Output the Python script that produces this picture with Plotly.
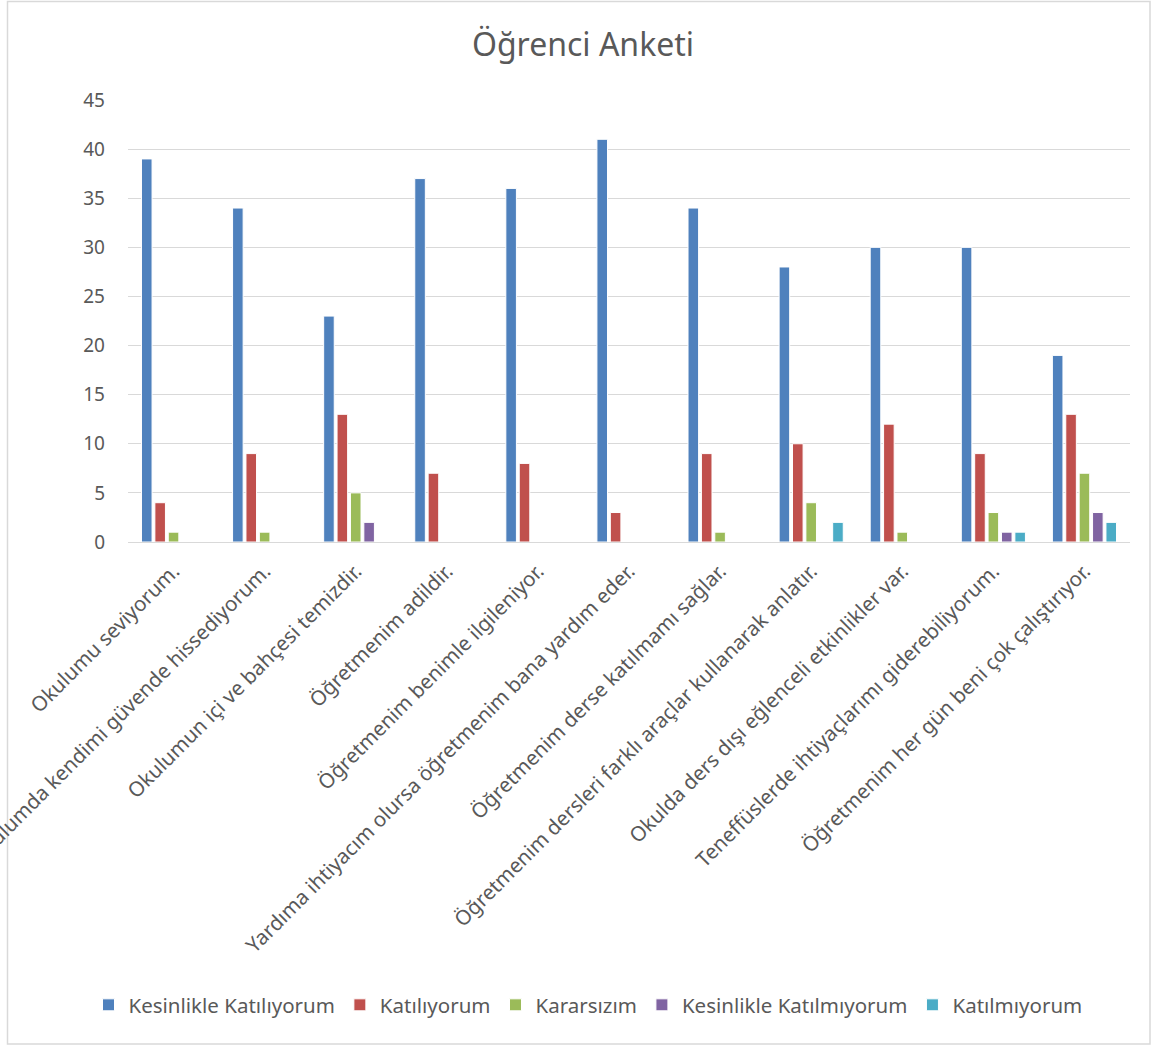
import plotly.graph_objects as go

categories = [
    "Okulumu seviyorum.",
    "Okulumda kendimi güvende hissediyorum.",
    "Okulumun içi ve bahçesi temizdir.",
    "Öğretmenim adildir.",
    "Öğretmenim benimle ilgileniyor.",
    "Yardıma ihtiyacım olursa öğretmenim bana yardım eder.",
    "Öğretmenim derse katılmamı sağlar.",
    "Öğretmenim dersleri farklı araçlar kullanarak anlatır.",
    "Okulda ders dışı eğlenceli etkinlikler var.",
    "Teneffüslerde ihtiyaçlarımı giderebiliyorum.",
    "Öğretmenim her gün beni çok çalıştırıyor.",
]

series_names = ["Kesinlikle Katılıyorum", "Katılıyorum", "Kararsızım",
                "Kesinlikle Katılmıyorum", "Katılmıyorum"]

kesinlikle_katiliyorum = [39, 34, 23, 37, 36, 41, 34, 28, 30, 30, 19]
katiliyorum = [4, 9, 13, 7, 8, 3, 9, 10, 12, 9, 13]
kararsizim = [1, 1, 5, 0, 0, 0, 1, 4, 1, 3, 7]
kesinlikle_katilmiyorum = [0, 0, 2, 0, 0, 0, 0, 0, 0, 1, 3]
katilmiyorum = [0, 0, 0, 0, 0, 0, 0, 2, 0, 1, 2]

y_ticks = [0, 5, 10, 15, 20, 25, 30, 35, 40, 45]

colors = ["#4F81BD", "#C0504D", "#9BBB59", "#8064A2", "#4BACC6"]
all_values = [kesinlikle_katiliyorum, katiliyorum, kararsizim,
              kesinlikle_katilmiyorum, katilmiyorum]

FONT = "Noto Sans"

fig = go.Figure()
for name, vals, col in zip(series_names, all_values, colors):
    fig.add_trace(go.Bar(
        x=categories, y=vals, name=name,
        marker=dict(color=col, line=dict(color="white", width=1)),
    ))

W, H = 1156, 1046
ml, mr, mt, mb = 128, 26, 100, 504
pw, ph = W - ml - mr, H - mt - mb

def px_x(px):
    return (px - ml) / pw

def px_y(py):
    return (H - mb - py) / ph

fig.update_layout(
    width=W, height=H,
    margin=dict(l=ml, r=mr, t=mt, b=mb, autoexpand=False),
    paper_bgcolor="white", plot_bgcolor="white",
    barmode="group", bargap=0.265, bargroupgap=0.21,
    font=dict(family=FONT, color="#595959", size=20),
    title=dict(text="Öğrenci Anketi", x=583 / W, xref="container", xanchor="center",
               y=1 - 45 / H, yref="container", yanchor="middle",
               font=dict(family=FONT, size=32, color="#595959")),
    xaxis=dict(tickangle=-45, showgrid=False, showline=True,
               linecolor="#d9d9d9", linewidth=1, ticks="",
               ticklabelstandoff=8,
               tickfont=dict(family=FONT, size=20.5, color="#595959")),
    yaxis=dict(range=[0, 45], tickvals=y_ticks, showgrid=True,
               gridcolor="#d9d9d9", gridwidth=1, zeroline=False,
               showline=False, ticks="", ticklabelstandoff=22,
               tickfont=dict(family=FONT, size=19, color="#595959")),
    legend=dict(orientation="h", x=588 / W, xref="container", xanchor="center",
                y=px_y(1005), yanchor="middle",
                font=dict(family=FONT, size=20.5, color="#595959"),
                itemwidth=30, tracegroupgap=0),
    shapes=[dict(type="rect", xref="paper", yref="paper",
                 x0=px_x(7.5), x1=px_x(1150), y0=px_y(1044), y1=px_y(1.5),
                 line=dict(color="#d9d9d9", width=1.5), fillcolor="rgba(0,0,0,0)",
                 layer="below")],
)

fig.write_html("out.html")
